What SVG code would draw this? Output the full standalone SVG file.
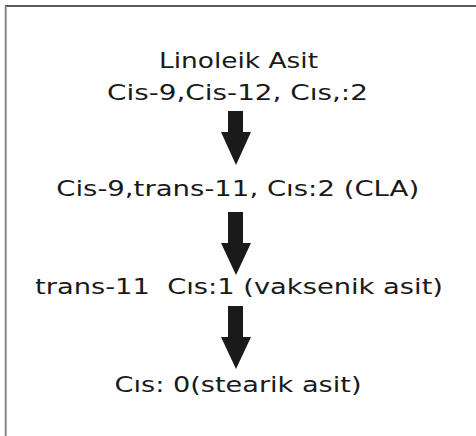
<svg xmlns="http://www.w3.org/2000/svg" width="476" height="436" viewBox="0 0 476 436">
<style>
.t{font-family:"DejaVu Sans","Verdana",sans-serif;font-size:20.5px;fill:#1a1a1a;text-anchor:middle}
.a{fill:#1a1a1a}
</style>
<rect width="476" height="436" fill="#ffffff"/>
<g id="frame">
<line x1="5" y1="6" x2="476" y2="6" stroke="#222" stroke-width="1.6"/>
<line x1="5.7" y1="6" x2="5.7" y2="436" stroke="#888" stroke-width="2"/>
</g>
<g id="node1">
<text class="t" x="238.5" y="68" textLength="159" lengthAdjust="spacingAndGlyphs">Linoleik Asit</text>
<text class="t" x="237.5" y="100" textLength="261" lengthAdjust="spacingAndGlyphs">Cis-9,Cis-12, Cıs,:2</text>
</g>
<g id="node2">
<text class="t" x="237.7" y="196" textLength="363" lengthAdjust="spacingAndGlyphs">Cis-9,trans-11, Cıs:2 (CLA)</text>
</g>
<g id="node3">
<text class="t" x="239" y="294" textLength="408" lengthAdjust="spacingAndGlyphs" xml:space="preserve">trans-11  Cıs:1 (vaksenik asit)</text>
</g>
<g id="node4">
<text class="t" x="238" y="392" textLength="247" lengthAdjust="spacingAndGlyphs">Cıs: 0(stearik asit)</text>
</g>
<g id="connectors">
<polygon class="a" points="228,111 243,111 243,132 251,132 236,165 221,132 228,132"/>
<polygon class="a" points="228,212 243,212 243,243 251,243 236,275 221,243 228,243"/>
<polygon class="a" points="228,306 243,306 243,337 251,337 236,369 221,337 228,337"/>
</g>
</svg>
